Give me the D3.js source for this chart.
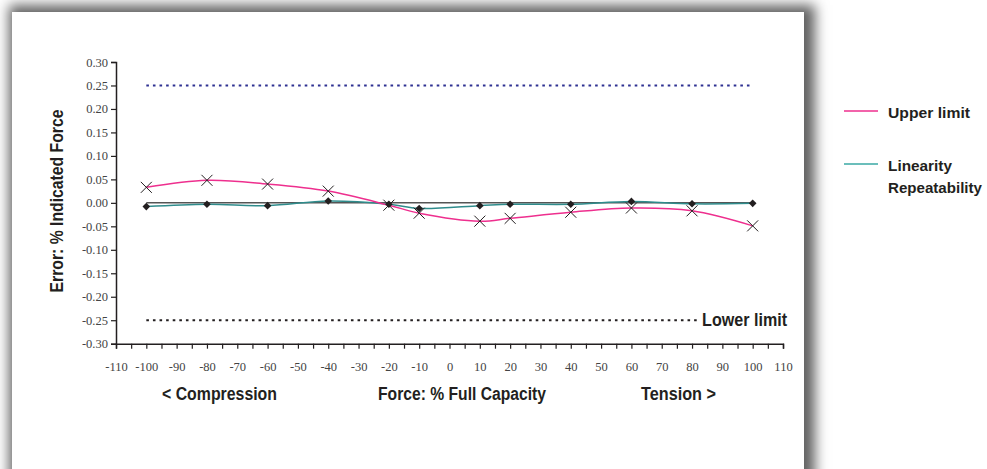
<!DOCTYPE html>
<html>
<head>
<meta charset="utf-8">
<script src="https://cdn.jsdelivr.net/npm/d3@7/dist/d3.min.js"></script>
<style>
  body { margin: 0; background: #fff; overflow: hidden; }
  #card {
    position: absolute; left: 12px; top: 12px; width: 792px; height: 500px;
    background: #fff;
    box-shadow: 4px 0 12px 7px rgba(0,0,0,0.62);
  }
  #chart { position: absolute; left: 0; top: 0; }
  .cond { font-family: "Liberation Sans", Arial, sans-serif; font-weight: bold; fill: #231f20; }
  .tick text { font-family: "Liberation Serif", "Times New Roman", serif; font-size: 12.5px; fill: #444; }
</style>
</head>
<body>
<div id="card"></div>
<div id="chart"></div>
<script>
// force, % of full capacity
const forcePct = [-100, -80, -60, -40, -20, -10, 10, 20, 40, 60, 80, 100];
// error series with X markers (pink smoothed line)
const errorCross = [0.033, 0.048, 0.040, 0.025, -0.005, -0.022, -0.039, -0.033, -0.020, -0.011, -0.017, -0.049];
// error series with diamond markers (teal line)
const errorDiamond = [-0.008, -0.003, -0.006, 0.004, -0.003, -0.012, -0.006, -0.003, -0.003, 0.003, -0.002, -0.001];
const upperLimit = 0.25;
const lowerLimit = -0.25;
const limitRange = [-100, 100];
const lowerLimitEnd = 82;

const xTicks = d3.range(-110, 111, 10);
const xMinor = d3.range(-110, 111, 5);
const yTicks = [-0.30, -0.25, -0.20, -0.15, -0.10, -0.05, 0.00, 0.05, 0.10, 0.15, 0.20, 0.25, 0.30];

const legendLabels = [["Upper limit"], ["Linearity", "Repeatability"]];
const legendColors = ["#ee2f8e", "#3aa9a5"];

const width = 987, height = 469;
const x = d3.scaleLinear().domain([-110, 110]).range([116, 783]);
const y = d3.scaleLinear().domain([-0.30, 0.30]).range([343.7, 62]);

const svg = d3.select("#chart").append("svg")
  .attr("width", width)
  .attr("height", height);

// squeeze bold text to look like a condensed face
function condensed(sel, size, w) {
  sel.attr("class", "cond")
    .attr("font-size", size)
    .attr("textLength", w)
    .attr("lengthAdjust", "spacingAndGlyphs");
}

// axes
svg.append("g")
  .attr("transform", "translate(0," + y(-0.30) + ")")
  .call(d3.axisBottom(x).tickValues(xMinor).tickSize(5).tickFormat(d => xTicks.includes(d) ? String(d) : ""))
  .call(g => g.select(".domain").attr("stroke", "#231f20").attr("stroke-width", 1.5))
  .call(g => g.selectAll(".tick line").attr("stroke", "#231f20").attr("stroke-width", 1.2))
  .call(g => g.selectAll(".tick text").attr("dy", "1.55em"));

svg.append("g")
  .attr("transform", "translate(" + x(-110) + ",0)")
  .call(d3.axisLeft(y).tickValues(yTicks).tickSize(5).tickFormat(d => d.toFixed(2)))
  .call(g => g.select(".domain").attr("stroke", "#231f20").attr("stroke-width", 1.5))
  .call(g => g.selectAll(".tick line").attr("stroke", "#231f20").attr("stroke-width", 1.2))
  .call(g => g.selectAll(".tick text").attr("x", -8));

// limit lines
svg.append("line")
  .attr("x1", x(limitRange[0])).attr("x2", x(limitRange[1]))
  .attr("y1", y(upperLimit)).attr("y2", y(upperLimit))
  .attr("stroke", "#2e3192").attr("stroke-width", 2)
  .attr("stroke-dasharray", "2.6,4");

svg.append("line")
  .attr("x1", x(limitRange[0])).attr("x2", x(lowerLimitEnd))
  .attr("y1", y(lowerLimit)).attr("y2", y(lowerLimit))
  .attr("stroke", "#231f20").attr("stroke-width", 2)
  .attr("stroke-dasharray", "2.6,4");

svg.append("text")
  .attr("x", x(lowerLimitEnd) + 4).attr("y", y(lowerLimit) + 6)
  .text("Lower limit")
  .call(condensed, 17.5, 85);

// zero reference line
svg.append("line")
  .attr("x1", x(-100)).attr("x2", x(100))
  .attr("y1", y(0)).attr("y2", y(0))
  .attr("stroke", "#555").attr("stroke-width", 1.5);

const crossPts = forcePct.map((f, i) => [f, errorCross[i]]);
const diamondPts = forcePct.map((f, i) => [f, errorDiamond[i]]);

const line = d3.line()
  .x(d => x(d[0]))
  .y(d => y(d[1]))
  .curve(d3.curveCatmullRom.alpha(0.5));

svg.append("path")
  .datum(diamondPts)
  .attr("d", line)
  .attr("fill", "none")
  .attr("stroke", "#2f8c8c")
  .attr("stroke-width", 1.5);

svg.append("path")
  .datum(crossPts)
  .attr("d", line)
  .attr("fill", "none")
  .attr("stroke", "#ee2f8e")
  .attr("stroke-width", 1.5);

svg.selectAll(".diamond")
  .data(diamondPts)
  .enter().append("rect")
  .attr("class", "diamond")
  .attr("x", -2.7).attr("y", -2.7)
  .attr("width", 5.4).attr("height", 5.4)
  .attr("fill", "#231f20")
  .attr("transform", d => "translate(" + x(d[0]) + "," + y(d[1]) + ") rotate(45)");

svg.selectAll(".cross")
  .data(crossPts)
  .enter().append("path")
  .attr("class", "cross")
  .attr("d", "M-5.5,-5.5L5.5,5.5M-5.5,5.5L5.5,-5.5")
  .attr("stroke", "#231f20")
  .attr("stroke-width", 1)
  .attr("fill", "none")
  .attr("transform", d => "translate(" + x(d[0]) + "," + y(d[1]) + ")");

// axis titles
svg.append("text")
  .attr("transform", "translate(63,201) rotate(-90)")
  .attr("text-anchor", "middle")
  .text("Error: % Indicated Force")
  .call(condensed, 17.5, 183);

const xTitles = ["< Compression", "Force: % Full Capacity", "Tension >"];
const xTitleBox = [[162, 115], [378, 168], [641, 75]];
xTitles.forEach((t, i) => {
  svg.append("text")
    .attr("x", xTitleBox[i][0]).attr("y", 399.5)
    .text(t)
    .call(condensed, 18, xTitleBox[i][1]);
});

// legend
const legendW = [[82], [64, 94]];
const legend = svg.append("g").attr("transform", "translate(844,111)");
legendLabels.forEach((labels, i) => {
  const g = legend.append("g").attr("transform", "translate(0," + i * 53 + ")");
  g.append("line").attr("x1", 0).attr("x2", 34).attr("y1", 0).attr("y2", 0)
    .attr("stroke", legendColors[i]).attr("stroke-width", 1.5);
  labels.forEach((l, j) => {
    g.append("text")
      .attr("x", 44).attr("y", 6.5 + j * 22)
      .text(l)
      .call(condensed, 15.5, legendW[i][j]);
  });
});
</script>
</body>
</html>
